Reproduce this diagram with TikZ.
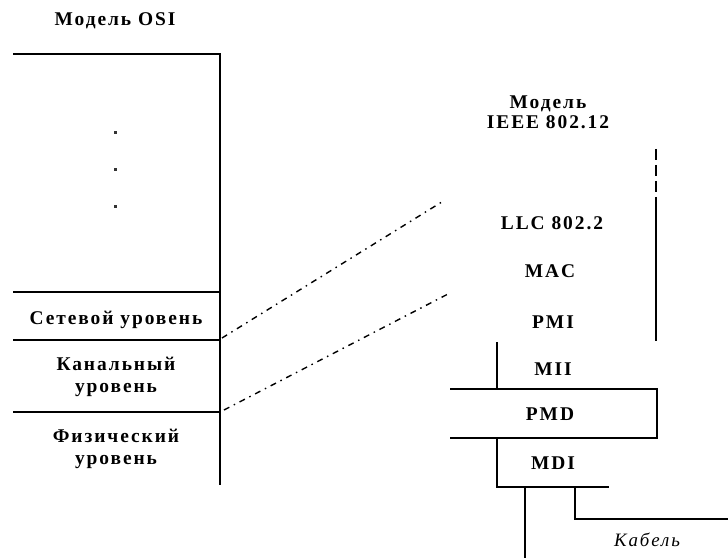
\documentclass[tikz,border=0pt]{standalone}
\usepackage{fontspec}
\setmainfont{Liberation Serif}[LetterSpace=10]
\begin{document}
\begin{tikzpicture}[x=1bp,y=-1bp,line width=1.4bp,
  lbl/.style={font=\fontsize{19.5}{22.5}\selectfont\bfseries,align=center,inner sep=0pt},
  link/.style={line width=1.4bp,dash pattern=on 6bp off 5bp on 1.5bp off 5bp},
  vdash/.style={dash pattern=on 11bp off 5bp},
  dotmark/.style={fill=black!80,minimum size=3bp,inner sep=0pt,draw=none}]
\useasboundingbox (0,0) rectangle (728,558);
% left: OSI model
\node[lbl] (osi) at (115,21) {Модель OSI};
\coordinate (tl) at (13,54);
\coordinate (tr) at (220,54);
\coordinate (br) at (220,485);
\draw (tl) -- (tr) -- (br);
\coordinate (l1) at (13,292); \coordinate (r1) at (220,292);
\coordinate (l2) at (13,340); \coordinate (r2) at (220,340);
\coordinate (l3) at (13,412); \coordinate (r3) at (220,412);
\draw (l1) -- (r1);
\draw (l2) -- (r2);
\draw (l3) -- (r3);
\node[dotmark] (d1) at (115,133) {};
\node[dotmark] (d2) at (115,170) {};
\node[dotmark] (d3) at (115,207) {};
\node[lbl] (net) at (116,320) {Сетевой уровень};
\node[lbl] (dl) at (116,377) {Канальный\\уровень};
\node[lbl] (phy) at (116,449) {Физический\\уровень};
% right: IEEE 802.12
\node[lbl,font=\fontsize{19.5}{20}\selectfont\bfseries] (ieee) at (548,112) {Модель\\IEEE 802.12};
\node[lbl] (llc) at (552,223) {LLC 802.2};
\node[lbl] (mac) at (550,271) {MAC};
\node[lbl] (pmi) at (553,322) {PMI};
\node[lbl] (mii) at (553,369) {MII};
\node[lbl] (pmd) at (550,414) {PMD};
\node[lbl] (mdi) at (553,463) {MDI};
\node[font=\fontsize{19}{20}\selectfont\itshape,inner sep=0pt] (cab) at (647,540) {Кабель};
% connectors between models
\coordinate (a1) at (445,200);
\coordinate (a2) at (448,294);
\coordinate (s1) at (222,338);
\coordinate (s2) at (224,410);
\draw[link] (s1) -- (a1);
\draw[link] (s2) -- (a2);
% right structure
\draw[vdash] (656,149) -- (656,197);
\draw (656,197) -- (656,341);
\draw (497,342) -- (497,389);
\draw (450,389) -- (657,389) -- (657,438) -- (450,438);
\draw (497,438) -- (497,487) -- (609,487);
\draw (525,487) -- (525,558);
\draw (575,487) -- (575,519) -- (728,519);
\end{tikzpicture}
\end{document}
